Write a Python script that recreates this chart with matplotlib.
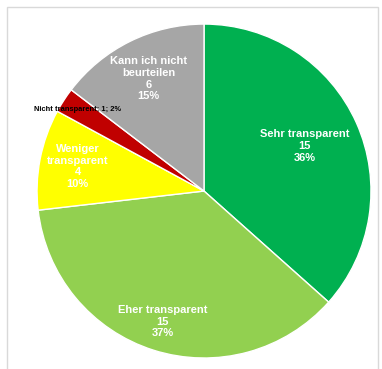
import numpy as np
import matplotlib
matplotlib.use("Agg")
from matplotlib import pyplot as plt
from matplotlib.patches import Rectangle

plt.rcParams['font.family'] = ['Liberation Sans', 'DejaVu Sans']

categories = ['Sehr transparent', 'Eher transparent', 'Weniger\ntransparent',
              'Nicht transparent', 'Kann ich nicht\nbeurteilen']
counts = [15, 15, 4, 1, 6]
percents = ['36%', '37%', '10%', '2%', '15%']
colors = ['#00B050', '#92D050', '#FFFF00', '#C00000', '#A6A6A6']

fig = plt.figure(figsize=(3.82, 3.69), dpi=100)
ax = fig.add_axes([0.0969, 0.0298, 0.8743, 0.905])

wedges, _ = ax.pie(counts, colors=colors, startangle=90, counterclock=False,
                   wedgeprops={'edgecolor': 'white', 'linewidth': 1.0})
ax.set_xlim(-1, 1)
ax.set_ylim(-1, 1)
ax.set_aspect('equal')
ax.axis('off')

# label radius per slice (fraction of radius)
label_r = [0.66, 0.82, 0.77, 0.9, 0.75]
for i, w in enumerate(wedges):
    ang = np.deg2rad((w.theta1 + w.theta2) / 2)
    x = label_r[i] * np.cos(ang)
    y = label_r[i] * np.sin(ang)
    if categories[i] == 'Nicht transparent':
        ax.text(x, y, categories[i] + '; ' + str(counts[i]) + '; ' + percents[i],
                ha='center', va='center', fontsize=5.4, fontweight='bold', color='black')
    else:
        ax.text(x, y, categories[i] + '\n' + str(counts[i]) + '\n' + percents[i],
                ha='center', va='center', fontsize=8, fontweight='bold', color='white',
                linespacing=1.2)

fig.patches.append(Rectangle((7 / 382, -0.02), 371 / 382, (369 - 7) / 369 + 0.02,
                             transform=fig.transFigure, fill=False,
                             edgecolor='#D9D9D9', linewidth=1.0))

plt.savefig('out.png', dpi=100)
